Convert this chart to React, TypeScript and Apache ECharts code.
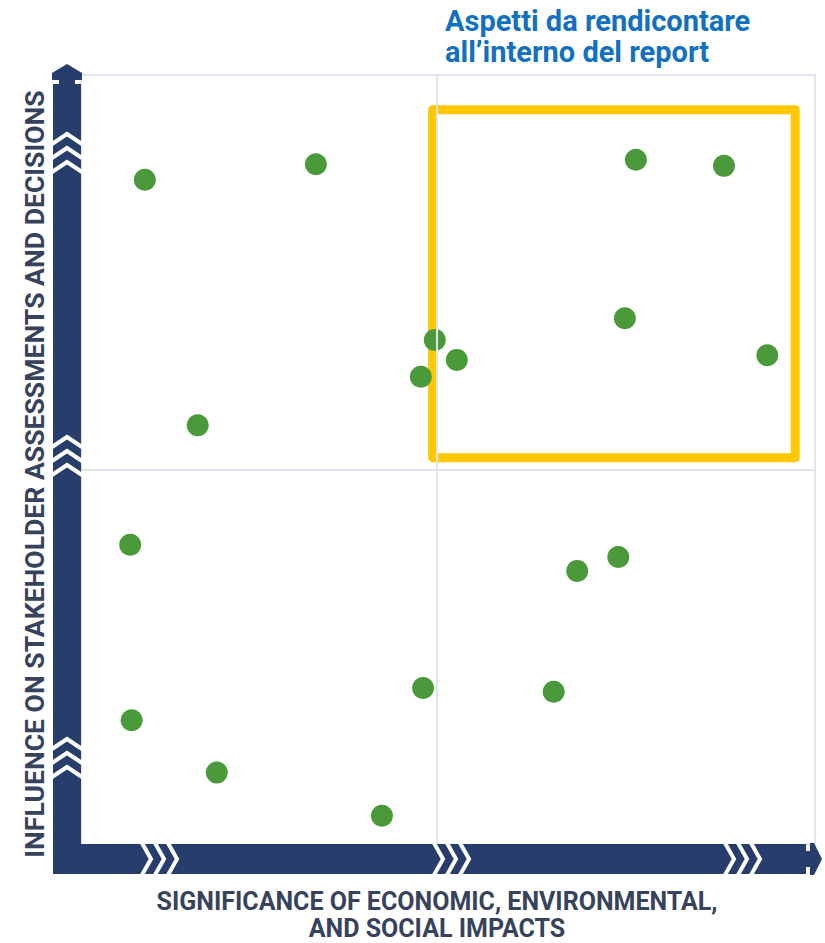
import React, { useEffect, useRef } from "react";
import * as echarts from "echarts";

const titleLines = ["Aspetti da rendicontare", "all’interno del report"];
const xAxisTitle = ["SIGNIFICANCE OF ECONOMIC, ENVIRONMENTAL,", "AND SOCIAL IMPACTS"];
const yAxisTitle = "INFLUENCE ON STAKEHOLDER ASSESSMENTS AND DECISIONS";

const significance = [8.7, 32.0, 75.6, 87.6, 74.1, 93.5, 48.2, 51.2, 46.3, 15.9, 6.7, 67.6, 73.2, 46.6, 64.4, 6.9, 18.5, 41.0];
const influence = [86.4, 88.4, 89.0, 88.2, 68.4, 63.6, 65.6, 63.0, 60.8, 54.5, 39.0, 35.6, 37.4, 20.4, 19.9, 16.2, 9.4, 3.8];

const thresholdX = 48.5;
const thresholdY = 48.7;
const reportBoxX = [47.9, 97.3];
const reportBoxY = [50.3, 95.5];

const NAVY = "#273d6c";
const GRIDC = "#dfe4ee";

function buildGraphics() {
  const els: any[] = [];
  // vertical axis bar
  els.push({ type: "rect", shape: { x: 53, y: 84, width: 28, height: 790 }, style: { fill: NAVY }, z: 100 });
  els.push({ type: "rect", shape: { x: 59, y: 79, width: 16, height: 6 }, style: { fill: NAVY }, z: 100 });
  els.push({
    type: "polygon",
    shape: { points: [[67, 64], [82, 73], [82, 80], [52, 80], [52, 73]] },
    style: { fill: NAVY },
    z: 100,
  });
  // horizontal axis bar
  els.push({ type: "rect", shape: { x: 53, y: 844, width: 753, height: 30 }, style: { fill: NAVY }, z: 100 });
  els.push({ type: "rect", shape: { x: 805, y: 851, width: 6, height: 16 }, style: { fill: NAVY }, z: 100 });
  els.push({
    type: "polygon",
    shape: { points: [[810, 843], [814, 843], [822, 859], [814, 875], [810, 875]] },
    style: { fill: NAVY },
    z: 100,
  });
  // chevrons on horizontal bar
  const hStarts = [142, 155, 168, 434, 447, 460, 725, 738, 751];
  hStarts.forEach((x0) => {
    els.push({
      type: "polyline",
      shape: { points: [[x0, 843], [x0 + 9, 859], [x0, 875]] },
      style: { stroke: "#ffffff", lineWidth: 4, fill: null, lineJoin: "miter" },
      z: 101,
    });
  });
  // chevrons on vertical bar (pointing up)
  const vEnds = [144, 158, 172, 447, 461, 475, 749, 763, 777];
  vEnds.forEach((y0) => {
    els.push({
      type: "polyline",
      shape: { points: [[52, y0], [67, y0 - 10], [82, y0]] },
      style: { stroke: "#ffffff", lineWidth: 4, fill: null, lineJoin: "miter" },
      z: 101,
    });
  });
  // title
  els.push({
    type: "text",
    x: 445,
    y: 5,
    style: {
      text: titleLines.join("\n"),
      fill: "#1170c0",
      font: "bold 29px Roboto",
      lineHeight: 31,
      textAlign: "left",
      textVerticalAlign: "top",
    },
    z: 102,
  });
  // x axis title
  els.push({
    type: "text",
    x: 437,
    y: 888,
    style: {
      text: xAxisTitle.join("\n"),
      fill: "#37435c",
      font: "bold 25px Roboto",
      lineHeight: 27,
      textAlign: "center",
      textVerticalAlign: "top",
    },
    z: 102,
  });
  // y axis title
  els.push({
    type: "text",
    x: 34,
    y: 474,
    rotation: Math.PI / 2,
    style: {
      text: yAxisTitle,
      fill: "#37435c",
      font: "bold 26.6px Roboto",
      textAlign: "center",
      textVerticalAlign: "middle",
    },
    z: 102,
  });
  return els;
}

export default function App() {
  const ref = useRef<HTMLDivElement>(null);
  useEffect(() => {
    if (!ref.current) return;
    const chart = echarts.init(ref.current, null, { renderer: "svg" });
    const points = significance.map((x, i) => [x, influence[i]]);
    chart.setOption({
      animation: false,
      backgroundColor: "#ffffff",
      grid: { left: 81, right: 10, top: 75, bottom: 98, show: true, borderColor: GRIDC, borderWidth: 2, backgroundColor: "transparent" },
      xAxis: {
        type: "value",
        min: 0,
        max: 100,
        axisLine: { show: false },
        axisTick: { show: false },
        axisLabel: { show: false },
        splitLine: { show: false },
      },
      yAxis: {
        type: "value",
        min: 0,
        max: 100,
        axisLine: { show: false },
        axisTick: { show: false },
        axisLabel: { show: false },
        splitLine: { show: false },
      },
      series: [
        {
          type: "scatter",
          name: "thresholds",
          data: [],
          z: 1,
          silent: true,
          markLine: {
            silent: true,
            symbol: "none",
            label: { show: false },
            lineStyle: { color: GRIDC, width: 2, type: "solid" },
            data: [{ xAxis: thresholdX }, { yAxis: thresholdY }],
          },
        },
        {
          type: "scatter",
          name: "aspects",
          data: points,
          symbolSize: 22,
          itemStyle: { color: "#4a9a3b", opacity: 1 },
          z: 2,
        },
        {
          type: "scatter",
          name: "report",
          data: [],
          z: 5,
          silent: true,
          markArea: {
            silent: true,
            itemStyle: { color: "rgba(0,0,0,0)", borderColor: "#ffc800", borderWidth: 9, borderJoin: "round" },
            data: [[{ xAxis: reportBoxX[0], yAxis: reportBoxY[1] }, { xAxis: reportBoxX[1], yAxis: reportBoxY[0] }]],
          },
        },
      ],
      graphic: buildGraphics(),
    });
    return () => chart.dispose();
  }, []);
  return <div ref={ref} style={{ position: "fixed", left: 0, top: 0, width: 825, height: 943 }} />;
}
